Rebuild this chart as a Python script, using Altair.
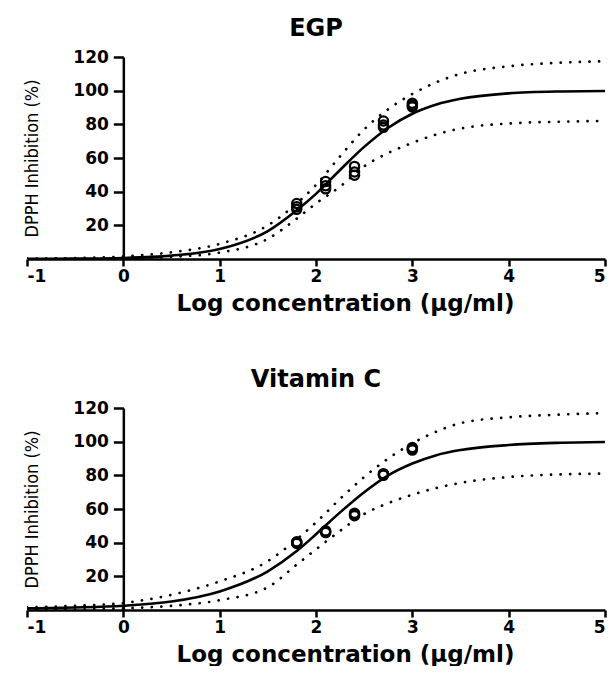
import altair as alt
import pandas as pd

# ---------------- data ----------------
conc_x = [1.8, 1.8, 1.8, 2.1, 2.1, 2.1, 2.4, 2.4, 2.4, 2.7, 2.7, 2.7, 3.0, 3.0, 3.0]

egp_points = [33, 31, 29.5, 46, 43.5, 41.7, 55, 51.7, 49.8, 82, 79.6, 78.2, 92.5, 91.3, 90.3]
vitc_points = [40.5, 40, 39.5, 47, 46.5, 46, 57.5, 56.7, 56, 81, 80.5, 80, 96.5, 95.8, 95]

curve_x = [-1, -0.5, 0, 0.5, 1, 1.5, 1.8, 2, 2.25, 2.5, 2.75, 3, 3.25, 3.5, 4, 4.5, 5]

egp_fit   = [0.1, 0.2, 0.6, 2.0, 5.9, 16.6, 29, 38.7, 52.9, 66.6, 78.0, 86.3, 91.8, 95.2, 98.4, 99.5, 99.8]
egp_upper = [0.2, 0.5, 1.5, 4.0, 9.0, 20, 33, 44, 61, 77, 89, 98, 105, 110, 114.5, 116.5, 117.5]
egp_lower = [0.0, 0.1, 0.4, 1.3, 3.8, 12, 24, 33, 43, 55, 63, 69, 74, 77.5, 80.5, 81.5, 82]

vitc_fit   = [1.0, 1.5, 2.5, 5.0, 11, 23, 35, 45, 58, 70, 80, 87, 92, 95, 98, 99.3, 99.8]
vitc_upper = [1.5, 2.5, 4.2, 9.0, 17, 29, 42, 52, 66, 79, 90, 99, 106, 111, 114.5, 116, 117]
vitc_lower = [0.0, 0.3, 1.0, 2.5, 5.8, 13.5, 27, 36, 47, 57, 63.5, 68.5, 72.5, 75.5, 79, 80.5, 81]

x_ticks = [-1, 0, 1, 2, 3, 4, 5]
y_ticks = [20, 40, 60, 80, 100, 120]

titles = ["EGP", "Vitamin C"]
x_title = "Log concentration (\u03bcg/ml)"
y_title = "DPPH Inhibition (%)"

W = 578
H = 202
BOLD = "DejaVu Sans"
NARROW = "DejaVu Sans Condensed, Liberation Sans Narrow, Liberation Sans, sans-serif"


def panel(title, pts, fit, upper, lower):
    pts_df = pd.DataFrame({"x": conc_x, "y": pts})
    curve_df = pd.DataFrame({"x": curve_x, "fit": fit, "upper": upper, "lower": lower})

    xs = alt.Scale(domain=[-1, 5], nice=False, zero=False)
    ys = alt.Scale(domain=[0, 120], nice=False)

    x_axis = alt.Axis(
        values=x_ticks, labelExpr="'' + datum.value", grid=False, ticks=True,
        labelOverlap=False,
        domainColor="black", domainWidth=2.5, tickColor="black", tickWidth=2.5,
        tickSize=7, labelFont=BOLD, labelFontWeight="bold", labelFontSize=17,
        labelColor="black", labelPadding=2, title=x_title, titleFont=BOLD,
        titleFontWeight="bold", titleFontSize=23, titleColor="black", titlePadding=8,
        titleX=W / 2 + 29, titleAlign="center",
    )
    y_axis = alt.Axis(
        values=y_ticks, grid=False, offset=-W / 6, ticks=True, labelOverlap=False,
        domainColor="black", domainWidth=2.5, tickColor="black", tickWidth=2.5,
        tickSize=10, labelFont=BOLD, labelFontWeight="bold", labelFontSize=17,
        labelColor="black", labelPadding=5, title=y_title, titleFont=NARROW,
        titleFontWeight="normal", titleFontSize=18, titleColor="black", titlePadding=31,
    )

    fit_line = alt.Chart(curve_df).mark_line(
        color="black", strokeWidth=2.6, interpolate="monotone", clip=True
    ).encode(x=alt.X("x:Q", scale=xs, axis=x_axis), y=alt.Y("fit:Q", scale=ys, axis=y_axis))

    up_line = alt.Chart(curve_df).mark_line(
        color="black", strokeWidth=2.7, strokeDash=[0.1, 9.5], strokeCap="round",
        interpolate="monotone", clip=True
    ).encode(x=alt.X("x:Q", scale=xs), y=alt.Y("upper:Q", scale=ys))

    lo_line = alt.Chart(curve_df).mark_line(
        color="black", strokeWidth=2.7, strokeDash=[0.1, 9.5], strokeCap="round",
        interpolate="monotone", clip=True
    ).encode(x=alt.X("x:Q", scale=xs), y=alt.Y("lower:Q", scale=ys))

    points = alt.Chart(pts_df).mark_point(
        shape="circle", filled=False, color="black", size=85, strokeWidth=2.3, opacity=1
    ).encode(x=alt.X("x:Q", scale=xs), y=alt.Y("y:Q", scale=ys))

    return alt.layer(lo_line, up_line, fit_line, points).properties(
        width=W, height=H,
        title=alt.TitleParams(title, font=BOLD, fontWeight="bold", fontSize=24,
                              color="black", anchor="middle", offset=7),
    )


top = panel(titles[0], egp_points, egp_fit, egp_upper, egp_lower)
bottom = panel(titles[1], vitc_points, vitc_fit, vitc_upper, vitc_lower)

chart = alt.vconcat(top, bottom, spacing=53).properties(
    padding={"left": 15, "top": 9, "right": 0, "bottom": 0}
).configure(background="white").configure_view(stroke=None, strokeWidth=0)

chart.save("out.html", embed_options={"renderer": "svg", "actions": False})
